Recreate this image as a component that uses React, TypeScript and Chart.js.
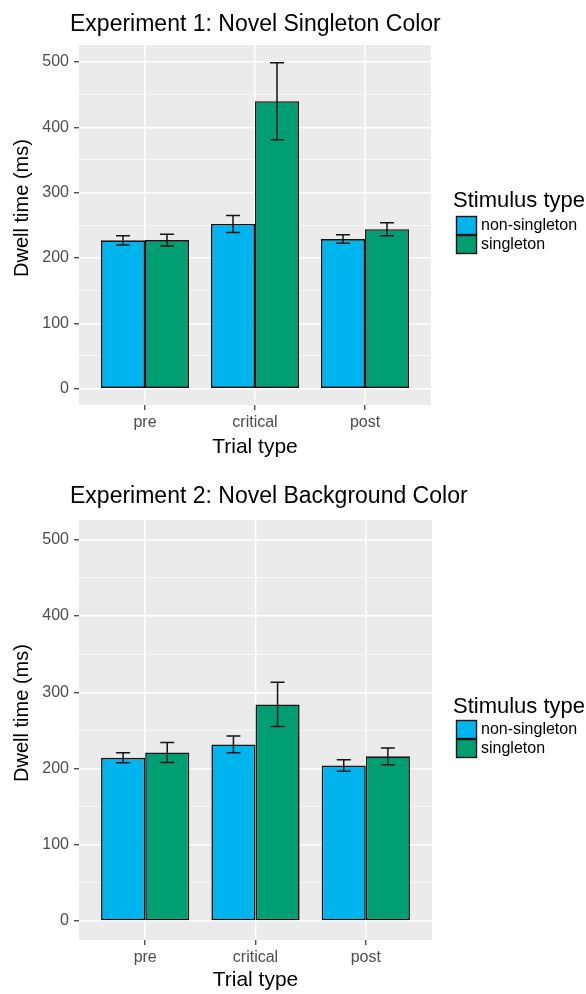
import React, { useEffect, useRef } from 'react';
import { Chart, registerables } from 'chart.js';

Chart.register(...registerables);

// ---- data ----
const trialTypes = ['pre', 'critical', 'post'];
const stimulusTypes = ['non-singleton', 'singleton'];
const yTickValues = [0, 100, 200, 300, 400, 500];

const exp1NonSingleton = [227, 252, 229];
const exp1NonSingletonSE = [7, 13, 6.5];
const exp1Singleton = [227.5, 440, 244];
const exp1SingletonSE = [9, 59, 10];

const exp2NonSingleton = [214, 231.5, 204];
const exp2NonSingletonSE = [6.5, 11, 7.5];
const exp2Singleton = [221, 284, 216];
const exp2SingletonSE = [13, 29, 11];

// ---- styling ----
const FONT = "'Liberation Sans', Arial, Helvetica, sans-serif";
const FILLS = ['#00B4EE', '#009E73'];
const OUTLINE = '#141414';
const PANEL_BG = '#EBEBEB';
const Y_MIN = -25;
const Y_MAX = 526;

type PanelSpec = {
  heading: string;
  nonSingleton: number[];
  nonSingletonSE: number[];
  singleton: number[];
  singletonSE: number[];
  height: number;
  padTop: number;
  padRight: number;
  xAxisHeight: number;
  xTitlePadBottom: number;
  headingBaseline: number;
  yTitleCenter: number;
  legendTitleBaseline: number;
  legendKeyTop: number;
};

const panels: PanelSpec[] = [
  {
    heading: 'Experiment 1: Novel Singleton Color',
    nonSingleton: exp1NonSingleton,
    nonSingletonSE: exp1NonSingletonSE,
    singleton: exp1Singleton,
    singletonSE: exp1SingletonSE,
    height: 470,
    padTop: 45,
    padRight: 155,
    xAxisHeight: 65,
    xTitlePadBottom: 10,
    headingBaseline: 31,
    yTitleCenter: 208,
    legendTitleBaseline: 207,
    legendKeyTop: 216,
  },
  {
    heading: 'Experiment 2: Novel Background Color',
    nonSingleton: exp2NonSingleton,
    nonSingletonSE: exp2NonSingletonSE,
    singleton: exp2Singleton,
    singletonSE: exp2SingletonSE,
    height: 524,
    padTop: 50,
    padRight: 154,
    xAxisHeight: 54,
    xTitlePadBottom: 1,
    headingBaseline: 33,
    yTitleCenter: 243,
    legendTitleBaseline: 243,
    legendKeyTop: 250,
  },
];

// grey panel behind the grid
const panelBackground = {
  id: 'panelBackground',
  beforeDraw(chart: any) {
    const { ctx, chartArea } = chart;
    ctx.save();
    ctx.fillStyle = PANEL_BG;
    ctx.fillRect(chartArea.left, chartArea.top, chartArea.right - chartArea.left, chartArea.bottom - chartArea.top);
    ctx.restore();
  },
};

// mean ± SE whiskers on every bar
const errorBars = {
  id: 'errorBars',
  afterDatasetsDraw(chart: any) {
    const { ctx } = chart;
    const yScale = chart.scales.y;
    ctx.save();
    ctx.strokeStyle = OUTLINE;
    ctx.lineWidth = 1.5;
    chart.data.datasets.forEach((ds: any, i: number) => {
      const meta = chart.getDatasetMeta(i);
      meta.data.forEach((bar: any, j: number) => {
        const v = ds.data[j].y;
        const se = ds.se[j];
        const x = bar.x;
        const yHi = yScale.getPixelForValue(v + se);
        const yLo = yScale.getPixelForValue(v - se);
        const half = 7;
        ctx.beginPath();
        ctx.moveTo(x, yHi);
        ctx.lineTo(x, yLo);
        ctx.moveTo(x - half, yHi);
        ctx.lineTo(x + half, yHi);
        ctx.moveTo(x - half, yLo);
        ctx.lineTo(x + half, yLo);
        ctx.stroke();
      });
    });
    ctx.restore();
  },
};

// heading, rotated y title and the fill legend
const decorations = {
  id: 'decorations',
  afterDraw(chart: any, _args: any, opts: any) {
    const spec: PanelSpec = opts.spec;
    const { ctx } = chart;
    ctx.save();
    ctx.fillStyle = '#000';
    ctx.textAlign = 'left';
    ctx.textBaseline = 'alphabetic';
    ctx.font = `23px ${FONT}`;
    ctx.fillText(spec.heading, 70, spec.headingBaseline);

    ctx.save();
    ctx.translate(22, spec.yTitleCenter);
    ctx.rotate(-Math.PI / 2);
    ctx.textAlign = 'center';
    ctx.textBaseline = 'middle';
    ctx.font = `20px ${FONT}`;
    ctx.fillText('Dwell time (ms)', 0, 0);
    ctx.restore();

    ctx.font = `22px ${FONT}`;
    ctx.fillText('Stimulus type', 453, spec.legendTitleBaseline);
    const keyW = 21;
    const keyH = 19;
    stimulusTypes.forEach((name, k) => {
      const y = spec.legendKeyTop + k * keyH;
      ctx.fillStyle = FILLS[k];
      ctx.fillRect(456, y, keyW, keyH);
      ctx.strokeStyle = OUTLINE;
      ctx.lineWidth = 1.4;
      ctx.strokeRect(456.5, y + 0.5, keyW - 1, keyH - 1);
      ctx.fillStyle = '#000';
      ctx.font = `16px ${FONT}`;
      ctx.textBaseline = 'middle';
      ctx.fillText(name, 481, y + keyH / 2);
      ctx.textBaseline = 'alphabetic';
    });
    ctx.restore();
  },
};

function PanelChart({ spec }: { spec: PanelSpec }) {
  const ref = useRef<HTMLCanvasElement>(null);

  useEffect(() => {
    const toPoints = (vals: number[]) => vals.map((y, i) => ({ x: i, y }));
    const chart = new Chart(ref.current as HTMLCanvasElement, {
      type: 'bar',
      data: {
        datasets: [
          {
            label: stimulusTypes[0],
            data: toPoints(spec.nonSingleton),
            se: spec.nonSingletonSE,
            backgroundColor: FILLS[0],
          },
          {
            label: stimulusTypes[1],
            data: toPoints(spec.singleton),
            se: spec.singletonSE,
            backgroundColor: FILLS[1],
          },
        ] as any,
      },
      options: {
        responsive: false,
        animation: false,
        devicePixelRatio: 1,
        layout: { padding: { top: spec.padTop, right: spec.padRight, left: 0, bottom: 0 } },
        datasets: {
          bar: {
            categoryPercentage: 0.8,
            barPercentage: 1,
            borderColor: OUTLINE,
            borderWidth: 1.6,
            borderSkipped: false,
          },
        },
        scales: {
          x: {
            type: 'linear',
            offset: false,
            min: -0.6,
            max: 2.6,
            afterBuildTicks: (scale: any) => {
              scale.ticks = trialTypes.map((_, i) => ({ value: i }));
            },
            afterFit: (scale: any) => {
              scale.height = spec.xAxisHeight;
            },
            ticks: {
              callback: (v: any) => trialTypes[v as number] ?? '',
              color: '#4D4D4D',
              font: { family: FONT, size: 16 },
              padding: 3,
              maxRotation: 0,
              autoSkip: false,
            },
            grid: {
              color: '#FFFFFF',
              lineWidth: 1.5,
              offset: false,
              drawTicks: true,
              tickLength: 5,
              tickColor: '#333333',
              tickWidth: 1.2,
            },
            border: { display: false },
            title: {
              display: true,
              text: 'Trial type',
              color: '#000',
              font: { family: FONT, size: 21 },
              padding: { top: 0, bottom: spec.xTitlePadBottom },
            },
          },
          y: {
            type: 'linear',
            min: Y_MIN,
            max: Y_MAX,
            afterBuildTicks: (scale: any) => {
              const ticks: { value: number }[] = [];
              yTickValues.forEach((v, i) => {
                ticks.push({ value: v });
                if (i < yTickValues.length - 1) ticks.push({ value: (v + yTickValues[i + 1]) / 2 });
              });
              scale.ticks = ticks;
            },
            afterFit: (scale: any) => {
              scale.width = 79;
            },
            ticks: {
              callback: (v: any) => (yTickValues.includes(v as number) ? String(v) : ''),
              color: '#4D4D4D',
              font: { family: FONT, size: 16 },
              padding: 5,
              autoSkip: false,
            },
            grid: {
              color: '#FFFFFF',
              lineWidth: (ctx: any) => (yTickValues.includes(ctx.tick?.value) ? 1.5 : 0.7),
              drawTicks: true,
              tickLength: 5,
              tickColor: (ctx: any) => (yTickValues.includes(ctx.tick?.value) ? '#333333' : 'rgba(0,0,0,0)'),
              tickWidth: 1.2,
            },
            border: { display: false },
          },
        },
        plugins: {
          legend: { display: false },
          tooltip: { enabled: false },
          title: { display: false },
          decorations: { spec },
        } as any,
      },
      plugins: [panelBackground, errorBars, decorations],
    });
    return () => chart.destroy();
  }, [spec]);

  return (
    <canvas
      ref={ref}
      width={586}
      height={spec.height}
      style={{ display: 'block', width: 586, height: spec.height }}
    />
  );
}

export default function App() {
  return (
    <div style={{ position: 'absolute', left: 0, top: 0, width: 586, height: 994, background: '#FFFFFF' }}>
      {panels.map((p) => (
        <PanelChart key={p.heading} spec={p} />
      ))}
    </div>
  );
}
